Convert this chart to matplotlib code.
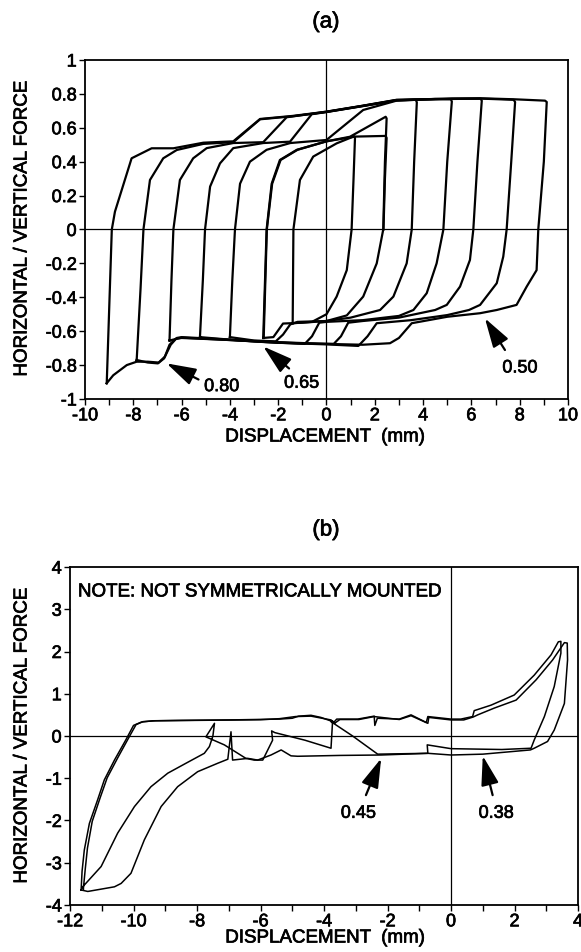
import matplotlib
matplotlib.use('Agg')
import matplotlib.pyplot as plt
import matplotlib.patheffects as pe
from matplotlib.text import Text

plt.rcParams['font.family'] = ['Liberation Sans', 'DejaVu Sans']
plt.rcParams['axes.unicode_minus'] = False

# ---------------- Panel (a) data ----------------
a_loop1_x = [-1.40, -1.37, -1.10, -0.55, 0.42, 1.15, 1.18, 1.12, 1.04, 0.84, 0.42, 0.00, -0.60, -1.40]
a_loop1_y = [-0.553, 0.00, 0.292, 0.43, 0.508, 0.55, 0.54, 0.30, 0.00, -0.24, -0.396, -0.50, -0.545, -0.553]

a_loop2_x = [-2.62, -2.48, -2.27, -1.93, -1.23, 0.00, 0.97, 2.45, 2.49, 2.42, 2.35, 2.08, 1.52, 0.84, 0.00, -1.00, -1.80, -2.20, -2.62]
a_loop2_y = [-0.64, 0.00, 0.27, 0.41, 0.47, 0.52, 0.547, 0.665, 0.655, 0.40, 0.00, -0.20, -0.396, -0.507, -0.54, -0.55, -0.555, -0.635, -0.64]

a_loop2b_x = [-2.60, -2.47, -2.25, -1.90, -1.20, 0.00, 1.18, 2.45, 2.49, 2.42, 2.36]
a_loop2b_y = [-0.64, 0.00, 0.27, 0.41, 0.47, 0.52, 0.548, 0.552, 0.54, 0.30, 0.00]

a_loop3_x = [-4.00, -3.90, -3.79, -3.58, -3.17, -2.48, -1.50, 0.00, 1.52, 2.90, 3.70, 3.74, 3.63, 3.53, 3.32, 2.77, 2.22, 1.00, 0.00, -1.20, -1.50, -1.80, -2.10, -3.00, -4.00]
a_loop3_y = [-0.635, -0.30, 0.00, 0.27, 0.40, 0.47, 0.51, 0.528, 0.705, 0.760, 0.765, 0.75, 0.40, 0.00, -0.20, -0.396, -0.475, -0.52, -0.54, -0.545, -0.56, -0.62, -0.66, -0.655, -0.635]

a_loop4_x = [-5.24, -5.12, -5.03, -4.82, -4.41, -3.86, -2.62, -1.51, -0.61, 0.00, 1.50, 2.90, 4.50, 5.15, 5.19, 5.00, 4.84, 4.56, 4.15, 3.60, 3.00, 1.50, 0.00, -0.30, -0.60, -0.90, -2.50, -4.00, -5.00, -5.24]
a_loop4_y = [-0.635, -0.30, 0.00, 0.253, 0.39, 0.48, 0.51, 0.518, 0.68, 0.693, 0.728, 0.762, 0.770, 0.768, 0.755, 0.40, 0.00, -0.20, -0.376, -0.475, -0.51, -0.535, -0.545, -0.55, -0.63, -0.675, -0.665, -0.65, -0.638, -0.635]

a_loop5_x = [-6.50, -6.42, -6.34, -6.07, -5.52, -4.96, -3.86, -2.62, -1.65, 0.00, 1.50, 2.90, 5.20, 6.38, 6.43, 6.25, 6.08, 5.94, 5.53, 4.98, 4.50, 3.00, 1.50, 0.90, 0.60, 0.30, -1.00, -3.00, -5.00, -6.00, -6.50]
a_loop5_y = [-0.655, -0.30, 0.00, 0.292, 0.42, 0.48, 0.51, 0.515, 0.662, 0.695, 0.73, 0.765, 0.772, 0.772, 0.76, 0.40, 0.00, -0.18, -0.337, -0.445, -0.475, -0.52, -0.54, -0.55, -0.63, -0.675, -0.672, -0.66, -0.645, -0.638, -0.655]

a_loop6_x = [-7.86, -7.70, -7.58, -7.31, -6.76, -6.20, -5.10, -3.86, -2.75, -1.40, 0.00, 1.50, 2.90, 5.20, 6.40, 7.75, 7.81, 7.65, 7.46, 7.32, 7.05, 6.36, 5.90, 5.00, 3.50, 2.08, 1.70, 1.32, 0.00, -2.00, -4.00, -6.00, -6.25, -6.50, -6.72, -6.98, -7.40, -7.86]
a_loop6_y = [-0.77, -0.35, 0.00, 0.292, 0.42, 0.469, 0.505, 0.515, 0.650, 0.668, 0.693, 0.728, 0.762, 0.770, 0.772, 0.765, 0.752, 0.40, 0.00, -0.16, -0.317, -0.445, -0.475, -0.505, -0.535, -0.553, -0.63, -0.687, -0.678, -0.668, -0.652, -0.64, -0.645, -0.68, -0.76, -0.79, -0.785, -0.77]

a_loop7_x = [-9.10, -8.89, -8.76, -8.07, -7.24, -6.34, -5.10, -3.86, -2.75, -1.40, 0.00, 1.50, 2.90, 5.20, 6.40, 7.80, 9.05, 9.12, 9.00, 8.77, 8.70, 8.29, 7.87, 7.05, 6.36, 5.00, 3.53, 3.00, 2.63, 1.50, 0.00, -2.00, -4.00, -6.00, -6.20, -6.45, -6.69, -6.95, -7.40, -7.86, -8.27, -8.83, -9.10]
a_loop7_y = [-0.907, 0.00, 0.105, 0.42, 0.479, 0.479, 0.512, 0.52, 0.652, 0.670, 0.695, 0.730, 0.764, 0.772, 0.774, 0.768, 0.760, 0.752, 0.40, 0.00, -0.24, -0.337, -0.445, -0.475, -0.494, -0.515, -0.553, -0.64, -0.671, -0.680, -0.675, -0.665, -0.650, -0.635, -0.640, -0.680, -0.750, -0.785, -0.780, -0.780, -0.800, -0.860, -0.907]

a_xticks = [-10, -8, -6, -4, -2, 0, 2, 4, 6, 8, 10]
a_xticklabels = ['-10', '-8', '-6', '-4', '-2', '0', '2', '4', '6', '8', '10']
a_xminor = [-9, -7, -5, -3, -1, 1, 3, 5, 7, 9]
a_yticks = [-1, -0.8, -0.6, -0.4, -0.2, 0, 0.2, 0.4, 0.6, 0.8, 1]
a_yticklabels = ['-1', '-0.8', '-0.6', '-0.4', '-0.2', '0', '0.2', '0.4', '0.6', '0.8', '1']

a_labels = ['0.80', '0.65', '0.50']
a_label_xy = [(-4.34, -0.927), (-1.03, -0.907), (8.01, -0.817)]
a_arrow_tip = [(-6.62, -0.79), (-2.62, -0.69), (6.56, -0.524)]
a_arrow_tail = [(-5.30, -0.885), (-1.55, -0.82), (7.39, -0.711)]

# ---------------- Panel (b) data ----------------
b_cycle1_x = [-11.65, -11.62, -11.55, -11.39, -11.13, -10.92, -10.60, -10.24, -10.00, -9.75, -9.40, -8.50, -7.00,
              -5.40, -5.00, -4.80, -4.41, -4.10, -3.80, -3.72, -3.60, -2.94, -2.42, -2.40, -2.32, -1.63, -1.26, -0.78,
              -0.73, 0.00, 0.31, 0.68, 0.73, 1.26, 1.99, 2.62, 3.15, 3.38, 3.46, 3.46, 3.25, 2.94, 2.62, 2.52, 1.60,
              0.00, -0.75, -0.73, -2.20, -3.50, -4.83, -5.04, -5.35, -5.67, -6.09, -6.40, -6.88, -6.93, -7.03, -7.35,
              -7.98, -8.61, -9.13, -9.66, -10.08, -10.39, -10.60, -11.44, -11.65]
b_cycle1_y = [-3.645, -3.20, -2.70, -2.07, -1.51, -1.04, -0.57, -0.09, 0.25, 0.33, 0.36, 0.37, 0.38,
              0.40, 0.42, 0.47, 0.49, 0.44, 0.36, 0.30, 0.40, 0.40, 0.47, 0.25, 0.42, 0.40, 0.50, 0.32,
              0.46, 0.40, 0.40, 0.46, 0.60, 0.73, 0.97, 1.44, 1.92, 2.23, 2.24, 1.96, 1.17, 0.46, -0.095, -0.29, -0.32,
              -0.30, -0.21, -0.41, -0.45, -0.46, -0.48, -0.47, -0.33, -0.45, -0.57, -0.53, -0.57, 0.10, -0.55, -0.646,
              -0.845, -1.20, -1.67, -2.46, -3.25, -3.49, -3.57, -3.68, -3.645]

b_cycle2_x = [-11.58, -11.52, -11.45, -11.30, -11.05, -10.83, -10.50, -10.15, -9.92, -9.70, -9.30, -8.00, -6.00,
              -5.40, -4.90, -4.41, -3.78, -3.67, -3.50, -2.90, -2.42, -1.63, -1.26, -0.73, -0.70, 0.00, 0.40, 0.70,
              0.84, 1.36, 2.05, 2.68, 3.20, 3.57, 3.66, 3.67, 3.57, 3.25, 3.04, 2.62, 2.50, 1.00, 0.00, -0.73, -2.31,
              -3.10, -3.78, -3.73, -3.78, -4.60, -5.55, -5.65, -5.62, -5.93, -6.20, -6.46, -7.14, -7.72, -7.45, -7.50,
              -7.61, -7.77, -8.35, -8.92, -9.45, -9.97, -10.50, -11.02, -11.60, -11.58]
b_cycle2_y = [-3.62, -3.15, -2.65, -2.02, -1.46, -0.99, -0.52, -0.04, 0.27, 0.34, 0.36, 0.37, 0.385,
              0.41, 0.46, 0.47, 0.38, 0.30, 0.39, 0.39, 0.46, 0.39, 0.48, 0.30, 0.44, 0.38, 0.38, 0.45,
              0.50, 0.66, 0.85, 1.33, 1.80, 2.21, 2.20, 1.80, 0.77, 0.14, -0.13, -0.29, -0.33, -0.43, -0.45, -0.41, -0.43,
              0.00, 0.34, 0.36, -0.29, -0.10, 0.08, 0.12, -0.10, -0.57, -0.57, -0.53, -0.21, -0.02, 0.30, 0.00,
              -0.25, -0.41, -0.646, -0.88, -1.20, -1.67, -2.30, -3.09, -3.57, -3.62]

b_xticks = [-12, -10, -8, -6, -4, -2, 0, 2, 4]
b_xticklabels = ['-12', '-10', '-8', '-6', '-4', '-2', '0', '2', '4']
b_xminor = [-11, -9, -7, -5, -3, -1, 1, 3]
b_yticks = [-4, -3, -2, -1, 0, 1, 2, 3, 4]
b_yticklabels = ['-4', '-3', '-2', '-1', '0', '1', '2', '3', '4']

b_labels = ['0.45', '0.38']
b_label_xy = [(-2.92, -1.83), (1.42, -1.83)]
b_arrow_tip = [(-2.20, -0.53), (1.00, -0.47)]
b_arrow_tail = [(-2.68, -1.40), (1.31, -1.40)]

b_note = 'NOTE: NOT SYMMETRICALLY MOUNTED'

FS = 13
FS_LABEL = 13.5

fig = plt.figure(figsize=(5.81, 9.52), dpi=100)

ARROW = dict(arrowstyle='-|>,head_length=1.5,head_width=0.45', mutation_scale=12,
             lw=1.6, color='k', shrinkA=0, shrinkB=0)

def style_axes(ax, xticks, xlabels, xminor, yticks, ylabels):
    ax.set_xticks(xticks)
    ax.set_xticklabels(xlabels)
    ax.set_xticks(xminor, minor=True)
    ax.set_yticks(yticks)
    ax.set_yticklabels(ylabels)
    ax.tick_params(which='both', direction='out', length=4, width=1.0, labelsize=FS, pad=2)
    for s in ax.spines.values():
        s.set_linewidth(1.3)
    ax.axhline(0, color='k', lw=0.9, zorder=1)
    ax.axvline(0, color='k', lw=0.9, zorder=1)

# Panel (a)
axa = fig.add_axes([0.1463, 0.5809, 0.8313, 0.3561])
a_loops = [(a_loop1_x, a_loop1_y), (a_loop2_x, a_loop2_y), (a_loop2b_x, a_loop2b_y),
           (a_loop3_x, a_loop3_y), (a_loop4_x, a_loop4_y), (a_loop5_x, a_loop5_y),
           (a_loop6_x, a_loop6_y), (a_loop7_x, a_loop7_y)]
for lx, ly in a_loops:
    axa.plot(lx, ly, color='k', lw=1.6, solid_joinstyle='round', zorder=2)
axa.set_xlim(-10, 10)
axa.set_ylim(-1, 1)
style_axes(axa, a_xticks, a_xticklabels, a_xminor, a_yticks, a_yticklabels)
for lab, pos, tip, tail in zip(a_labels, a_label_xy, a_arrow_tip, a_arrow_tail):
    axa.annotate('', xy=tip, xytext=tail, arrowprops=ARROW)
    axa.text(pos[0], pos[1], lab, fontsize=FS, ha='center', va='center')

# Panel (b)
axb = fig.add_axes([0.1205, 0.0494, 0.8744, 0.3550])
axb.plot(b_cycle1_x, b_cycle1_y, color='k', lw=1.1, solid_joinstyle='round', zorder=2)
axb.plot(b_cycle2_x, b_cycle2_y, color='k', lw=1.1, solid_joinstyle='round', zorder=2)
axb.set_xlim(-12, 4)
axb.set_ylim(-4, 4)
style_axes(axb, b_xticks, b_xticklabels, b_xminor, b_yticks, b_yticklabels)
for lab, pos, tip, tail in zip(b_labels, b_label_xy, b_arrow_tip, b_arrow_tail):
    axb.annotate('', xy=tip, xytext=tail, arrowprops=ARROW)
    axb.text(pos[0], pos[1], lab, fontsize=FS, ha='center', va='center')
axb.text(-11.75, 3.41, b_note, fontsize=FS_LABEL, ha='left', va='center')

# Titles and axis labels
fig.text(326 / 581, 1 - 22 / 952, '(a)', fontsize=16, ha='center', va='center')
fig.text(326 / 581, 1 - 530 / 952, '(b)', fontsize=16, ha='center', va='center')
fig.text(325 / 581, 1 - 437 / 952, 'DISPLACEMENT  (mm)', fontsize=FS_LABEL, ha='center', va='center')
fig.text(325 / 581, 1 - 938 / 952, 'DISPLACEMENT  (mm)', fontsize=FS_LABEL, ha='center', va='center')
fig.text(22 / 581, 1 - 229 / 952, 'HORIZONTAL / VERTICAL FORCE', fontsize=FS_LABEL, rotation=90, ha='center', va='center')
fig.text(22 / 581, 1 - 736 / 952, 'HORIZONTAL / VERTICAL FORCE', fontsize=FS_LABEL, rotation=90, ha='center', va='center')

# Slightly heavier strokes on all text, like the printed original
for t in fig.findobj(Text):
    t.set_path_effects([pe.withStroke(linewidth=0.5, foreground='k')])

fig.savefig('out.png', dpi=100)
